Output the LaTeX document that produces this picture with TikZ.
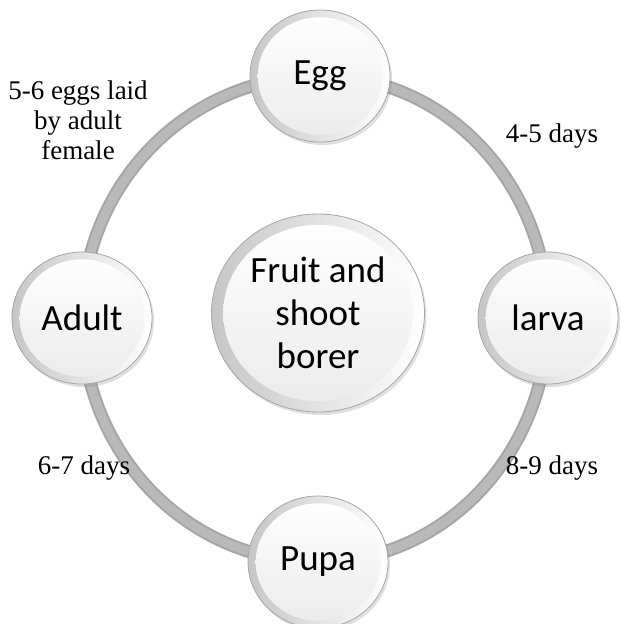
\documentclass[tikz,border=0pt]{standalone}
\usepackage{fontspec}
\setmainfont{Liberation Serif}
\newfontfamily\calibri{Carlito}
\usetikzlibrary{shapes.geometric,calc,shadows,backgrounds}

\begin{document}
\begin{tikzpicture}[x=1pt, y=-1pt,
  stage/.style={ellipse, draw=gray!70, line width=0.8pt, left color=gray!45, right color=white,
    minimum width=140pt, minimum height=132pt, inner sep=0pt, align=center,
    font=\calibri\fontsize{37}{43}\selectfont,
    drop shadow={opacity=0.25, shadow xshift=2pt, shadow yshift=-3pt},
    path picture={\shade[top color=white, bottom color=gray!16]
      let \p1=($(path picture bounding box.north east)-(path picture bounding box.center)$) in
      (path picture bounding box.center) ellipse ({0.89*\x1} and {0.89*\y1});}},
  core/.style={stage, minimum width=213pt, minimum height=198pt},
  ring/.style={line width=13pt, draw=gray!70},
  ringtop/.style={line width=9pt, draw=gray!55},
  note/.style={align=center, font=\fontsize{27}{30}\selectfont}
]
  \useasboundingbox (0,0) rectangle (621,624);

  % life stages
  \node[core] (borer) at (318,313) {Fruit and\\shoot\\borer};
  \node[stage] (egg) at (320,76) {Egg};
  \node[stage] (larva) at (548,318) {larva};
  \node[stage] (pupa) at (318,562) {Pupa};
  \node[stage] (adult) at (82,318) {Adult};

  % durations
  \node[note] (lay) at (78,120) {5-6 eggs laid\\by adult\\female};
  \node[note] (d45) at (552,136) {4-5 days};
  \node[note] (d89) at (552,468) {8-9 days};
  \node[note] (d67) at (84,468) {6-7 days};

  % cycle ring behind the circles
  \begin{pgfonlayer}{background}
    \fill[white] (0,0) rectangle (621,624);
    \foreach \s in {ring,ringtop}
      \draw[\s] (egg.center) to[out=0,in=90] (larva.center)
        to[out=-90,in=0] (pupa.center)
        to[out=180,in=-90] (adult.center)
        to[out=90,in=180] (egg.center);
  \end{pgfonlayer}
\end{tikzpicture}
\end{document}
